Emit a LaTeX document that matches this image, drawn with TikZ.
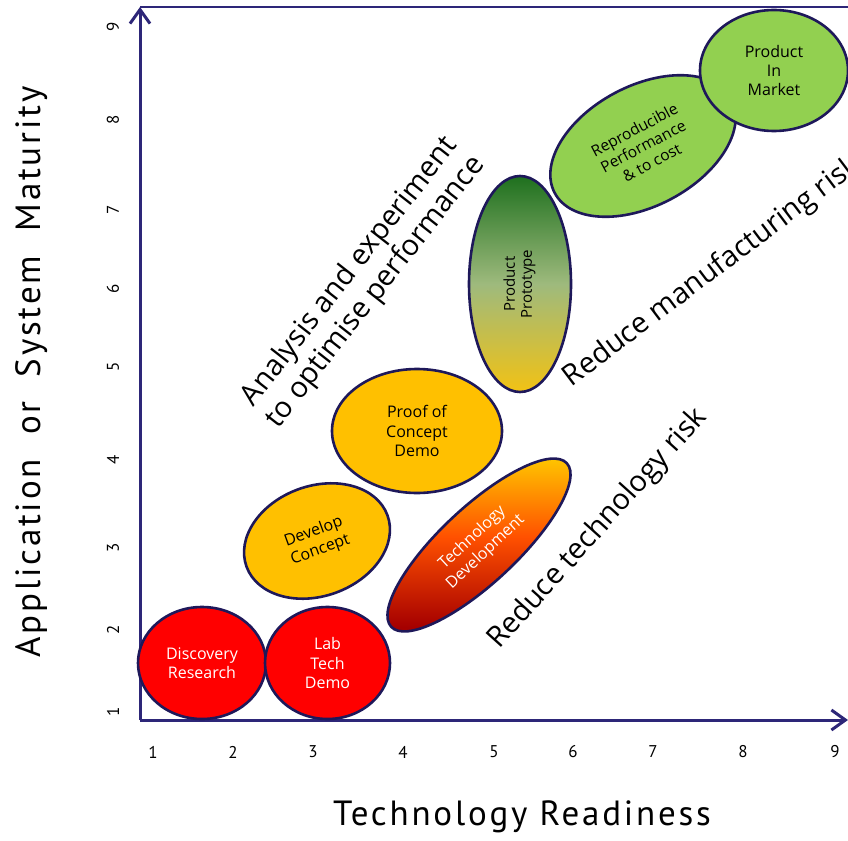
\documentclass[tikz,border=0pt]{standalone}
\usepackage{fontspec}
\setmainfont{Open Sans}
\newfontfamily\axisfont[LetterSpace=8]{PT Sans}
\usetikzlibrary{shapes.geometric,arrows.meta}

\definecolor{navyline}{RGB}{30,24,90}
\definecolor{axisblue}{RGB}{45,38,120}
\definecolor{stagered}{RGB}{255,0,0}
\definecolor{stageyellow}{RGB}{255,192,0}
\definecolor{stagegreen}{RGB}{146,208,80}
\definecolor{techyellow}{RGB}{255,212,0}
\definecolor{techorange}{RGB}{255,80,0}
\definecolor{protogreen}{RGB}{30,112,30}
\definecolor{protomid}{RGB}{158,186,125}
\definecolor{protogold}{RGB}{242,194,20}
\definecolor{deepred}{RGB}{165,0,0}

\begin{document}
\begin{tikzpicture}[x=1pt,y=-1pt,
  stage/.style={ellipse,draw=navyline,line width=2.6pt,inner sep=0pt,align=center,
    font=\fontsize{16}{19.5}\selectfont},
  axisline/.style={axisblue,line width=3pt},
  ticklabel/.style={font=\axisfont\fontsize{17}{17}\selectfont},
  axistitle/.style={font=\axisfont\fontsize{35}{35}\selectfont},
  risklabel/.style={font=\fontsize{29}{33}\selectfont,align=center}]
  \useasboundingbox (0,0) rectangle (848,840);

  % axes
  \coordinate (origin) at (140,720);
  \coordinate (ytop) at (140,7);
  \coordinate (xend) at (848,720);
  \coordinate (topright) at (848,7);
  \draw[axisblue,line width=1.5pt] (ytop) -- (topright);
  \draw[axisline,-{Straight Barb[length=14pt,width=20pt]}] (origin) -- (ytop);
  \draw[axisline,-{Straight Barb[length=14pt,width=20pt]}] (origin) -- (xend);

  \foreach \val/\xpos in {1/153,2/233,3/313,4/403,5/494,6/573,7/653,8/743,9/835}
    \node[ticklabel] (xt\val) at (\xpos,752) {\val};
  \foreach \val/\ypos in {1/712,2/630,3/548,4/460,5/367,6/289,7/210,8/120,9/27}
    \node[ticklabel,rotate=90] (yt\val) at (113,\ypos) {\val};

  \node[axistitle] (xtitle) at (522,817) {Technology Readiness};
  \node[axistitle,rotate=90] (ytitle) at (32,372) {Application\ \ or\ \ System\ \ Maturity};

  % stages
  \node[stage,fill=stagered,text=white,minimum width=128,minimum height=112]
    (discovery) at (202,663) {Discovery\\Research};
  \node[stage,fill=stagered,text=white,minimum width=125,minimum height=112]
    (labdemo) at (327.5,663) {Lab\\Tech\\Demo};
  \node[stage,fill=stageyellow,rotate=20,minimum width=150,minimum height=110]
    (develop) at (317,541) {Develop\\Concept};
  \node[stage,fill=stageyellow,minimum width=170,minimum height=124]
    (proof) at (417,431) {Proof of\\Concept\\Demo};
  \node[stage,rotate=43,minimum width=240,minimum height=76,text=white,
    top color=techyellow,bottom color=deepred,middle color=techorange]
    (techdev) at (479,545) {Technology\\Development};
  \node[stage,minimum width=102,minimum height=216,
    top color=protogreen,bottom color=protogold,middle color=protomid,
    font=\fontsize{15}{17}\selectfont]
    (prototype) at (520,284) {\rotatebox{90}{\begin{tabular}{@{}c@{}}Product\\Prototype\end{tabular}}};
  \node[stage,fill=stagegreen,rotate=28,minimum width=200,minimum height=120,
    font=\fontsize{15.5}{18.5}\selectfont]
    (reproducible) at (643,146) {Reproducible\\Performance\\\& to cost};
  \node[stage,fill=stagegreen,minimum width=148,minimum height=121]
    (market) at (774,70.5) {Product\\In\\Market};

  % risk labels
  \node[risklabel,rotate=52] (analysis) at (363,282) {Analysis and experiment\\to optimise performance};
  \node[risklabel,rotate=37] (manufacturing) at (712,272) {Reduce manufacturing risk};
  \node[risklabel,rotate=48] (technology) at (598,529) {Reduce technology risk};
\end{tikzpicture}
\end{document}
